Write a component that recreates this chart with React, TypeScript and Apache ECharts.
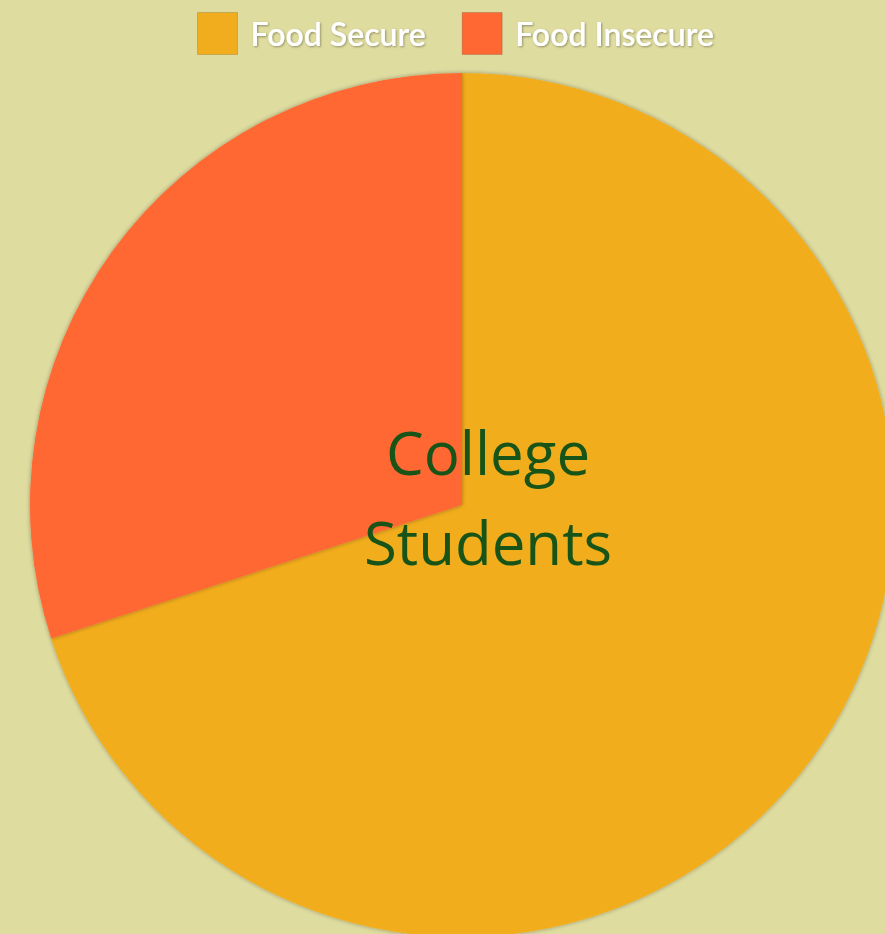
import React, { useEffect, useRef } from "react";
import * as echarts from "echarts";

const categories = ["Food Secure", "Food Insecure"];
const values = [70, 30];
const colors = ["#F2AD1F", "#FF6733"];
const centerLabel = "College\nStudents";

export default function App() {
  const ref = useRef<HTMLDivElement>(null);
  useEffect(() => {
    document.body.style.margin = "0";
    const chart = echarts.init(ref.current!, null, { renderer: "svg" });
    chart.setOption({
      animation: false,
      backgroundColor: "#DFDCA0",
      color: colors,
      legend: {
        top: 12,
        padding: 0,
        left: 197,
        itemWidth: 40,
        itemHeight: 42,
        itemGap: 36,
        icon: "rect",
        data: categories,
        textStyle: {
          color: "#ffffff",
          fontFamily: "Lato",
          fontSize: 32,
          fontWeight: 600,
          padding: [0, 0, 0, 8],
          textShadowColor: "rgba(0,0,0,0.35)",
          textShadowBlur: 2,
          textShadowOffsetX: 1,
          textShadowOffsetY: 1,
        },
        itemStyle: {
          borderColor: "rgba(0,0,0,0.15)",
          borderWidth: 1,
        },
      },
      series: [
        {
          type: "pie",
          center: [462, 505],
          radius: 432,
          startAngle: 90,
          clockwise: true,
          label: { show: false },
          labelLine: { show: false },
          itemStyle: {
            shadowBlur: 4,
            shadowColor: "rgba(0,0,0,0.35)",
          },
          data: categories.map((name, i) => ({ name, value: values[i] })),
        },
      ],
      graphic: [
        {
          type: "text",
          z: 100,
          x: 488,
          y: 497,
          style: {
            text: centerLabel,
            fill: "#185418",
            fontFamily: "Open Sans",
            fontSize: 60,
            lineHeight: 90,
            align: "center",
            verticalAlign: "middle",
          },
        },
      ],
    });
    return () => chart.dispose();
  }, []);
  return <div ref={ref} style={{ width: 885, height: 934 }} />;
}
